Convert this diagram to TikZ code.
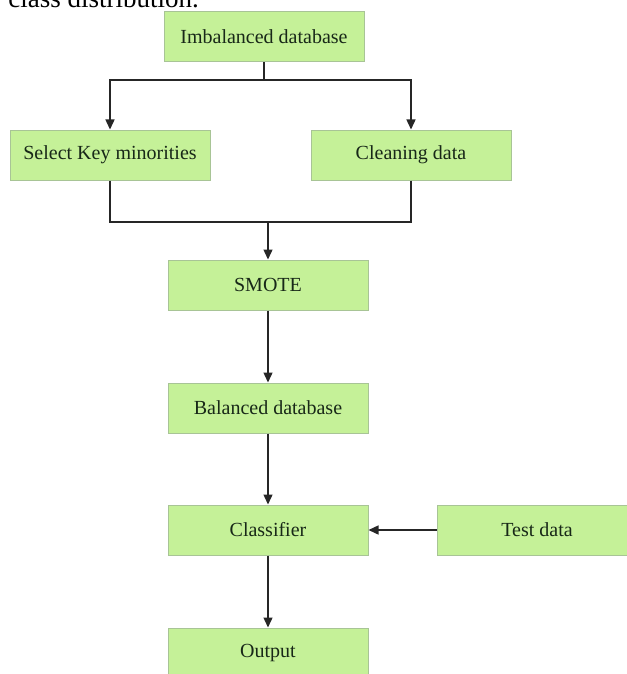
\documentclass[tikz,border=0pt]{standalone}
\usepackage{fontspec}
\setmainfont{Liberation Serif}
\usepackage{tikz}
\usetikzlibrary{arrows.meta, positioning}

\definecolor{boxgreen}{RGB}{197,241,152}
\definecolor{boxedge}{RGB}{168,196,150}
\definecolor{inkdark}{RGB}{24,40,24}

\begin{document}
\begin{tikzpicture}[
    x=0.5pt, y=-0.5pt,
    process/.style={rectangle, draw=boxedge, line width=0.5pt, fill=boxgreen, minimum width=100pt, minimum height=25pt, align=center, font=\fontsize{10}{12}\selectfont, text=inkdark, inner sep=0pt},
    link/.style={line width=0.7pt, draw=black!85},
    arrow/.style={link, -{Triangle[length=5pt,width=4.5pt]}}
]
\useasboundingbox (0,0) rectangle (626,674);

% Caption line cut off at the top
\node[anchor=base west, inner sep=0pt, font=\fontsize{13.5}{16}\selectfont] (caption) at (8,8) {class distribution.};

% Boxes
\node[process] (imb) at (264,37) {Imbalanced database};
\node[process] (select) at (110,155) {Select Key minorities};
\node[process] (clean) at (411,155) {Cleaning data};
\node[process] (smote) at (268,285) {SMOTE};
\node[process] (bal) at (268,408) {Balanced database};
\node[process] (clf) at (268,530) {Classifier};
\node[process] (test) at (537,530) {Test data};
\node[process] (out) at (268,653) {Output};

% Junctions
\coordinate (split) at (264,80);
\coordinate (merge) at (268,222);

% Connections
\draw[link] (imb) -- (split);
\draw[arrow] (split) -| (select);
\draw[arrow] (split) -| (clean);
\draw[link] (select) |- (merge);
\draw[link] (clean) |- (merge);
\draw[arrow] (merge) -- (smote);
\draw[arrow] (smote) -- (bal);
\draw[arrow] (bal) -- (clf);
\draw[arrow] (test) -- (clf);
\draw[arrow] (clf) -- (out);
\end{tikzpicture}
\end{document}
